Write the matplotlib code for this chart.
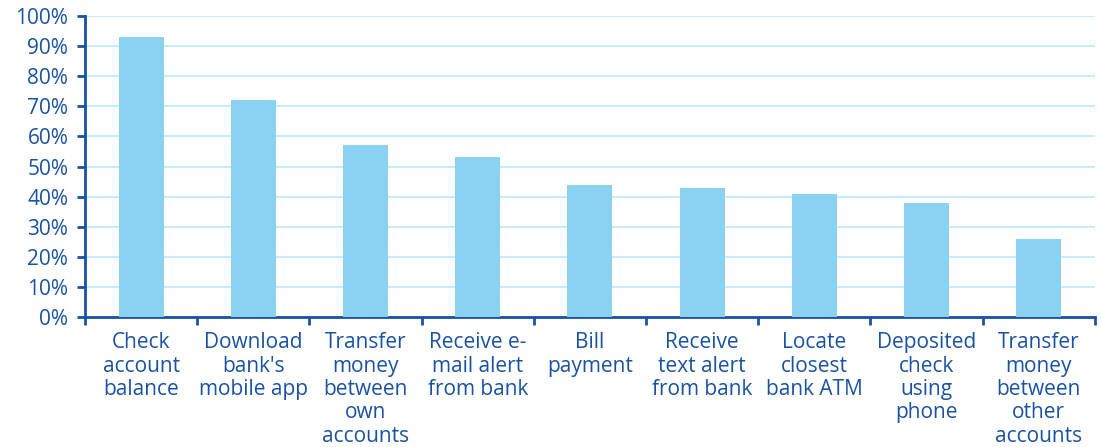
import numpy as np
import matplotlib.pyplot as plt
from matplotlib.ticker import FixedLocator, PercentFormatter

# donnees
categories = ["Check\naccount\nbalance", "Download\nbank's\nmobile app",
              "Transfer\nmoney\nbetween\nown\naccounts", "Receive e-\nmail alert\nfrom bank",
              "Bill\npayment", "Receive\ntext alert\nfrom bank", "Locate\nclosest\nbank ATM",
              "Deposited\ncheck\nusing\nphone", "Transfer\nmoney\nbetween\nother\naccounts"]
valeurs = [93, 72, 57, 53, 44, 43, 41, 38, 26]

bleu_texte = "#1a52a3"
bleu_barre = "#8bd2f2"
bleu_grille = "#c8ecfb"

plt.rcParams['font.family'] = ['Open Sans', 'DejaVu Sans']

fig = plt.figure(figsize=(11.01, 4.47), dpi=100)
ax = fig.add_axes([0.0772, 0.2908, 0.9172, 0.6734])

x = np.arange(len(categories))
ax.bar(x, valeurs, width=0.4, color=bleu_barre, zorder=3)

ax.set_xlim(-0.5, len(categories) - 0.5)
ax.set_ylim(0, 100)
ax.set_yticks(np.arange(0, 101, 10))
ax.yaxis.set_major_formatter(PercentFormatter(decimals=0))
ax.yaxis.grid(True, color=bleu_grille, linewidth=1.5, zorder=0)

ax.set_xticks(x)
ax.set_xticklabels(categories, fontsize=15, color=bleu_texte, linespacing=1.15)
ax.xaxis.set_minor_locator(FixedLocator(np.arange(-0.5, len(categories), 1)))
ax.tick_params(axis='x', which='major', length=0, pad=11)
ax.tick_params(axis='x', which='minor', length=6, width=2, color=bleu_texte, direction='out')
ax.tick_params(axis='y', length=6, width=2, color=bleu_texte, labelsize=15,
               labelcolor=bleu_texte, pad=6)

for cote in ['top', 'right']:
    ax.spines[cote].set_visible(False)
for cote in ['left', 'bottom']:
    ax.spines[cote].set_color(bleu_texte)
    ax.spines[cote].set_linewidth(2)

fig.savefig("out.png", dpi=100)
